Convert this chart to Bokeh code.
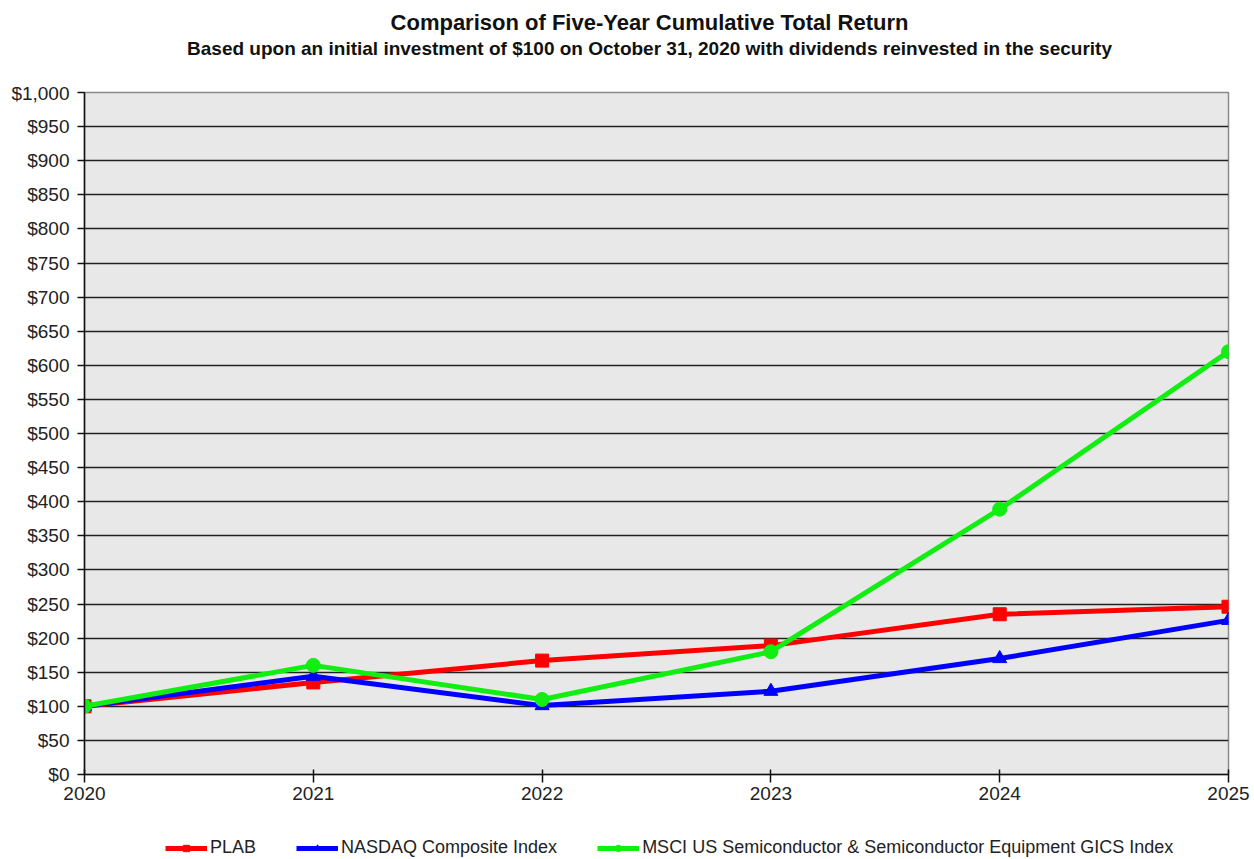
from bokeh.plotting import figure
from bokeh.models import (FixedTicker, NumeralTickFormatter, Label, Legend, LegendItem, Range1d)
from bokeh.layouts import column
from bokeh.embed import file_html
from bokeh.resources import INLINE

years = [2020, 2021, 2022, 2023, 2024, 2025]
plab = [100, 135, 167, 189, 235, 246]
nasdaq = [100, 144, 101, 122, 170, 226]
msci = [100, 160, 110, 180, 389, 620]

series_names = ["PLAB", "NASDAQ Composite Index",
                "MSCI US Semiconductor & Semiconductor Equipment GICS Index"]
title_text = "Comparison of Five-Year Cumulative Total Return"
subtitle_text = "Based upon an initial investment of $100 on October 31, 2020 with dividends reinvested in the security"
y_ticks = list(range(0, 1001, 50))

FONT = "Liberation Sans"
W = 1254
LEFT = 84
RIGHT_EDGE = 1228
colors = ["#ff0000", "#0000ff", "#11ee11"]
markers = ["square", "triangle", "circle"]
sizes = [13, 14, 14]
data = [plab, nasdaq, msci]


def bare(fig):
    fig.axis.visible = False
    fig.grid.visible = False
    fig.outline_line_color = None
    fig.background_fill_color = "white"
    fig.border_fill_color = "white"


# ---- title strip (x range = page pixels, frame aligned with chart frame) ----
TOP_H = 82
p_top = figure(width=W, height=TOP_H, output_backend="svg", toolbar_location=None,
               x_range=Range1d(LEFT, RIGHT_EDGE), y_range=Range1d(0, TOP_H),
               min_border_left=LEFT, min_border_right=W - RIGHT_EDGE,
               min_border_top=0, min_border_bottom=0, title=None)
bare(p_top)
p_top.add_layout(Label(x=649, y=TOP_H - 22, text=title_text, text_align="center",
                       text_baseline="middle", text_font=FONT, text_font_size="22px",
                       text_font_style="bold", text_color="#111111"))
p_top.add_layout(Label(x=649, y=TOP_H - 48, text=subtitle_text, text_align="center",
                       text_baseline="middle", text_font=FONT, text_font_size="19px",
                       text_font_style="bold", text_color="#111111"))

# ---- main chart ----
p = figure(width=W, height=730, output_backend="svg", toolbar_location=None,
           x_range=Range1d(2020, 2025), y_range=Range1d(0, 1000),
           title=None, min_border_left=LEFT, min_border_right=W - RIGHT_EDGE,
           min_border_top=10, min_border_bottom=38)

p.background_fill_color = "#e8e8e8"
p.border_fill_color = "white"
p.outline_line_color = "#8a8a8a"
p.outline_line_width = 1.5

p.yaxis.ticker = FixedTicker(ticks=y_ticks)
p.yaxis.formatter = NumeralTickFormatter(format="$0,0")
p.xaxis.ticker = FixedTicker(ticks=years)
for ax in (p.xaxis, p.yaxis):
    ax.axis_line_color = "#111111"
    ax.axis_line_width = 1.5
    ax.major_tick_line_color = "#111111"
    ax.major_tick_line_width = 1.5
    ax.minor_tick_line_color = None
    ax.major_label_text_font = FONT
    ax.major_label_text_font_size = "19px"
    ax.major_label_text_color = "#222222"
p.yaxis.major_tick_out = 7
p.yaxis.major_tick_in = 0
p.yaxis.major_label_standoff = 8
p.xaxis.major_tick_out = 8
p.xaxis.major_tick_in = 5
p.xaxis.major_label_standoff = 4

p.xgrid.grid_line_color = None
p.ygrid.grid_line_color = "#222222"
p.ygrid.grid_line_width = 1.5

for vals, c, m, s in zip(data, colors, markers, sizes):
    p.line(years, vals, line_color=c, line_width=5)
    p.scatter(years, vals, marker=m, size=s, fill_color=c, line_color=c)

# ---- legend strip ----
LEG_H = 859 - TOP_H - 730
p_leg = figure(width=W, height=LEG_H, output_backend="svg", toolbar_location=None,
               x_range=Range1d(0, 1), y_range=Range1d(0, 1),
               min_border_left=LEFT, min_border_right=W - RIGHT_EDGE,
               min_border_top=0, min_border_bottom=0, title=None)
bare(p_leg)
items = []
for c, m, name in zip(colors, markers, series_names):
    # off-range proxy glyphs: only their legend swatches are visible
    r1 = p_leg.line([-5, -4], [-5, -4], line_color=c, line_width=5)
    r2 = p_leg.scatter([-5], [-5], marker=m, size=8, fill_color=c, line_color=c)
    items.append(LegendItem(label=name, renderers=[r1, r2]))
legend = Legend(items=items, orientation="horizontal", location=(165 - LEFT, 1),
                label_text_font=FONT, label_text_font_size="18px", label_text_color="#222222",
                glyph_width=42, glyph_height=16, label_standoff=3, spacing=40,
                border_line_color=None, background_fill_alpha=0, padding=0, margin=0)
p_leg.add_layout(legend, "center")

layout = column(p_top, p, p_leg, spacing=0)
open("out.html", "w").write(file_html(layout, INLINE))
